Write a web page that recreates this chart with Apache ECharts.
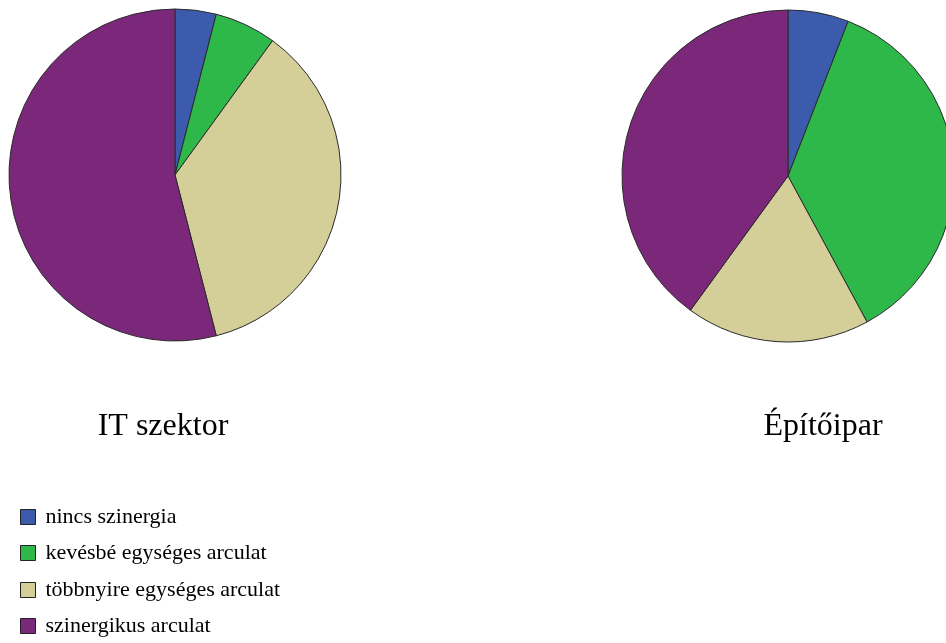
<!DOCTYPE html>
<html>
<head>
<meta charset="utf-8">
<script src="https://cdn.jsdelivr.net/npm/echarts@6/dist/echarts.min.js"></script>
<style>
  html, body { margin: 0; padding: 0; background: #fff; }
  #chart_wrap { width: 946px; height: 643px; }
</style>
</head>
<body>
<div id="chart_wrap"></div>
<script>
// kategóriák és arányok (%)
var categories = ['nincs szinergia', 'kevésbé egységes arculat', 'többnyire egységes arculat', 'szinergikus arculat'];
var itValues = [4, 6, 36, 54];
var epitoValues = [5.9, 36.2, 17.9, 40];
var pieTitles = ['IT szektor', 'Építőipar'];
var colors = ['#3c5bad', '#2eb84a', '#d4cf99', '#7b287a'];

var chart_wrap = document.getElementById('chart_wrap');
var chart = echarts.init(chart_wrap);

var toData = function (values) {
    var res = [];
    for (var i = 0; i < values.length; i++) {
        res.push({ name: categories[i], value: values[i] });
    }
    return res;
};

var pieSeries = function (name, values, cx, cy) {
    return {
        name: name,
        type: 'pie',
        center: [cx, cy],
        radius: 166,
        startAngle: 90,
        clockwise: true,
        silent: true,
        animation: false,
        label: { show: false },
        labelLine: { show: false },
        itemStyle: { borderColor: '#2a2a2a', borderWidth: 1 },
        data: toData(values)
    };
};

// a jelmagyarázat sorai egyenként, mert a térközük nem egyforma
var legendRowTops = [506, 542, 579, 615];
var legends = [];
for (var i = 0; i < categories.length; i++) {
    legends.push({
        orient: 'vertical',
        left: 20,
        top: legendRowTops[i],
        padding: 0,
        icon: 'rect',
        itemWidth: 15,
        itemHeight: 15,
        selectedMode: false,
        itemStyle: { borderColor: '#222', borderWidth: 1 },
        textStyle: {
            fontFamily: 'Liberation Serif',
            fontSize: 22,
            lineHeight: 22,
            color: '#000',
            padding: [0, 0, 0, 5]
        },
        data: [categories[i]]
    });
}

var option = {
    backgroundColor: '#fff',
    color: colors,
    legend: legends,
    graphic: [
        {
            type: 'text', x: 163, y: 427,
            style: { text: pieTitles[0], font: '32px "Liberation Serif"', fill: '#000', textAlign: 'center', textVerticalAlign: 'middle' }
        },
        {
            type: 'text', x: 823, y: 427,
            style: { text: pieTitles[1], font: '32px "Liberation Serif"', fill: '#000', textAlign: 'center', textVerticalAlign: 'middle' }
        }
    ],
    series: [
        pieSeries(pieTitles[0], itValues, 175, 175),
        pieSeries(pieTitles[1], epitoValues, 788, 176)
    ]
};

chart.setOption(option, true);
</script>
</body>
</html>
